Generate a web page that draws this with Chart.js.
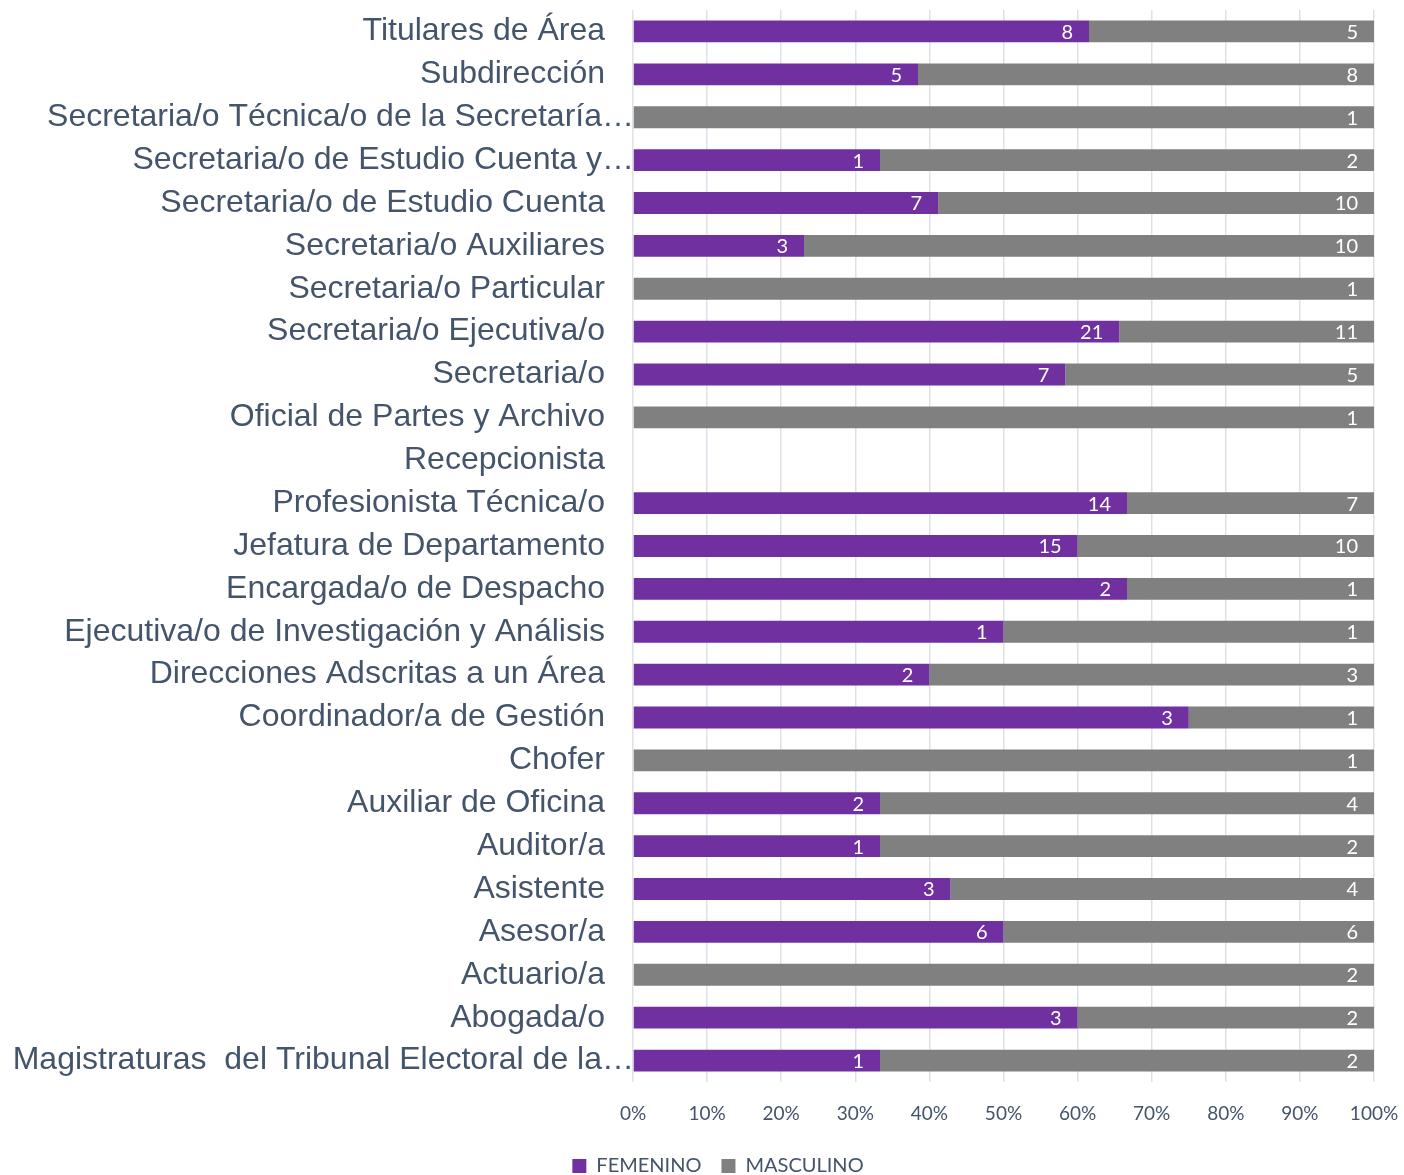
<!DOCTYPE html>
<html>
<head>
<meta charset="utf-8">
<script src="https://cdn.jsdelivr.net/npm/chart.js@4.4.1/dist/chart.umd.min.js"></script>
<style>
  html, body { margin: 0; padding: 0; background: #fff; overflow: hidden; }
  #wrap { position: relative; width: 1404px; height: 1186px; }
</style>
</head>
<body>
<div id="wrap"><canvas id="c"></canvas></div>
<script>
const categories = [
  "Titulares de Área",
  "Subdirección",
  "Secretaria/o Técnica/o de la Secretaría…",
  "Secretaria/o de Estudio Cuenta y…",
  "Secretaria/o de Estudio Cuenta",
  "Secretaria/o Auxiliares",
  "Secretaria/o Particular",
  "Secretaria/o Ejecutiva/o",
  "Secretaria/o",
  "Oficial de Partes y Archivo",
  "Recepcionista",
  "Profesionista Técnica/o",
  "Jefatura de Departamento",
  "Encargada/o de Despacho",
  "Ejecutiva/o de Investigación y Análisis",
  "Direcciones Adscritas a un Área",
  "Coordinador/a de Gestión",
  "Chofer",
  "Auxiliar de Oficina",
  "Auditor/a",
  "Asistente",
  "Asesor/a",
  "Actuario/a",
  "Abogada/o",
  "Magistraturas  del Tribunal Electoral de la…"
];
const femenino  = [8, 5, 0, 1, 7, 3, 0, 21, 7, 0, 0, 14, 15, 2, 1, 2, 3, 0, 2, 1, 3, 6, 0, 3, 1];
const masculino = [5, 8, 1, 2, 10, 10, 1, 11, 5, 1, 0, 7, 10, 1, 1, 3, 1, 1, 4, 2, 4, 6, 2, 2, 2];
const xTicks = [0, 10, 20, 30, 40, 50, 60, 70, 80, 90, 100];

const totals = femenino.map((f, i) => f + masculino[i]);
const femPct = femenino.map((f, i) => totals[i] ? f / totals[i] * 100 : 0);
const mascPct = masculino.map((m, i) => totals[i] ? m / totals[i] * 100 : 0);
const counts = [femenino, masculino];

const TEXT = '#44546A';

const yLabelsPlugin = {
  id: 'yLabels',
  afterDraw(chart) {
    const ctx = chart.ctx;
    const y = chart.scales.y;
    const left = chart.chartArea.left;
    ctx.save();
    ctx.font = '32px "Liberation Sans", Arial, sans-serif';
    ctx.fillStyle = TEXT;
    ctx.textAlign = 'right';
    ctx.textBaseline = 'middle';
    categories.forEach((c, i) => {
      const py = y.getPixelForValue(i);
      const truncated = c.endsWith('…');
      ctx.fillText(c, truncated ? left + 1 : left - 28, py);
    });
    ctx.restore();
  }
};

const barLabelsPlugin = {
  id: 'barLabels',
  afterDatasetsDraw(chart) {
    const ctx = chart.ctx;
    ctx.save();
    ctx.font = '20px Lato, "Open Sans", sans-serif';
    ctx.fillStyle = '#ffffff';
    ctx.textAlign = 'right';
    ctx.textBaseline = 'middle';
    chart.data.datasets.forEach((ds, di) => {
      const meta = chart.getDatasetMeta(di);
      meta.data.forEach((el, i) => {
        const v = counts[di][i];
        if (!v) return;
        ctx.fillText(String(v), el.x - 16, el.y + 1);
      });
    });
    ctx.restore();
  }
};

new Chart(document.getElementById('c'), {
  type: 'bar',
  data: {
    labels: categories,
    datasets: [
      { label: 'FEMENINO', data: femPct, backgroundColor: '#7030A0', barPercentage: 0.51, categoryPercentage: 1.0 },
      { label: 'MASCULINO', data: mascPct, backgroundColor: '#808080', barPercentage: 0.51, categoryPercentage: 1.0 }
    ]
  },
  options: {
    indexAxis: 'y',
    responsive: true,
    maintainAspectRatio: false,
    animation: false,
    layout: { padding: { left: 62, right: 30, top: 10, bottom: 0 } },
    scales: {
      x: {
        stacked: true,
        min: 0,
        max: 100,
        afterBuildTicks(scale) { scale.ticks = xTicks.map(v => ({ value: v })); },
        afterFit(scale) { scale.height = 54; scale.paddingLeft = 0; scale.paddingRight = 0; },
        grid: { color: '#dde2ea', lineWidth: 1.5, drawTicks: false },
        border: { display: false },
        ticks: {
          padding: 20,
          color: TEXT,
          font: { family: 'Lato, "Open Sans", sans-serif', size: 19 },
          callback: v => v + '%'
        }
      },
      y: {
        stacked: true,
        grid: { display: false },
        border: { display: false },
        ticks: { display: false },
        afterFit(scale) { scale.width = 571; }
      }
    },
    plugins: {
      legend: {
        position: 'bottom',
        labels: {
          boxWidth: 14,
          boxHeight: 14,
          padding: 20,
          color: TEXT,
          font: { family: 'Lato, "Open Sans", sans-serif', size: 20 }
        }
      },
      tooltip: { enabled: false }
    }
  },
  plugins: [yLabelsPlugin, barLabelsPlugin]
});
</script>
</body>
</html>
